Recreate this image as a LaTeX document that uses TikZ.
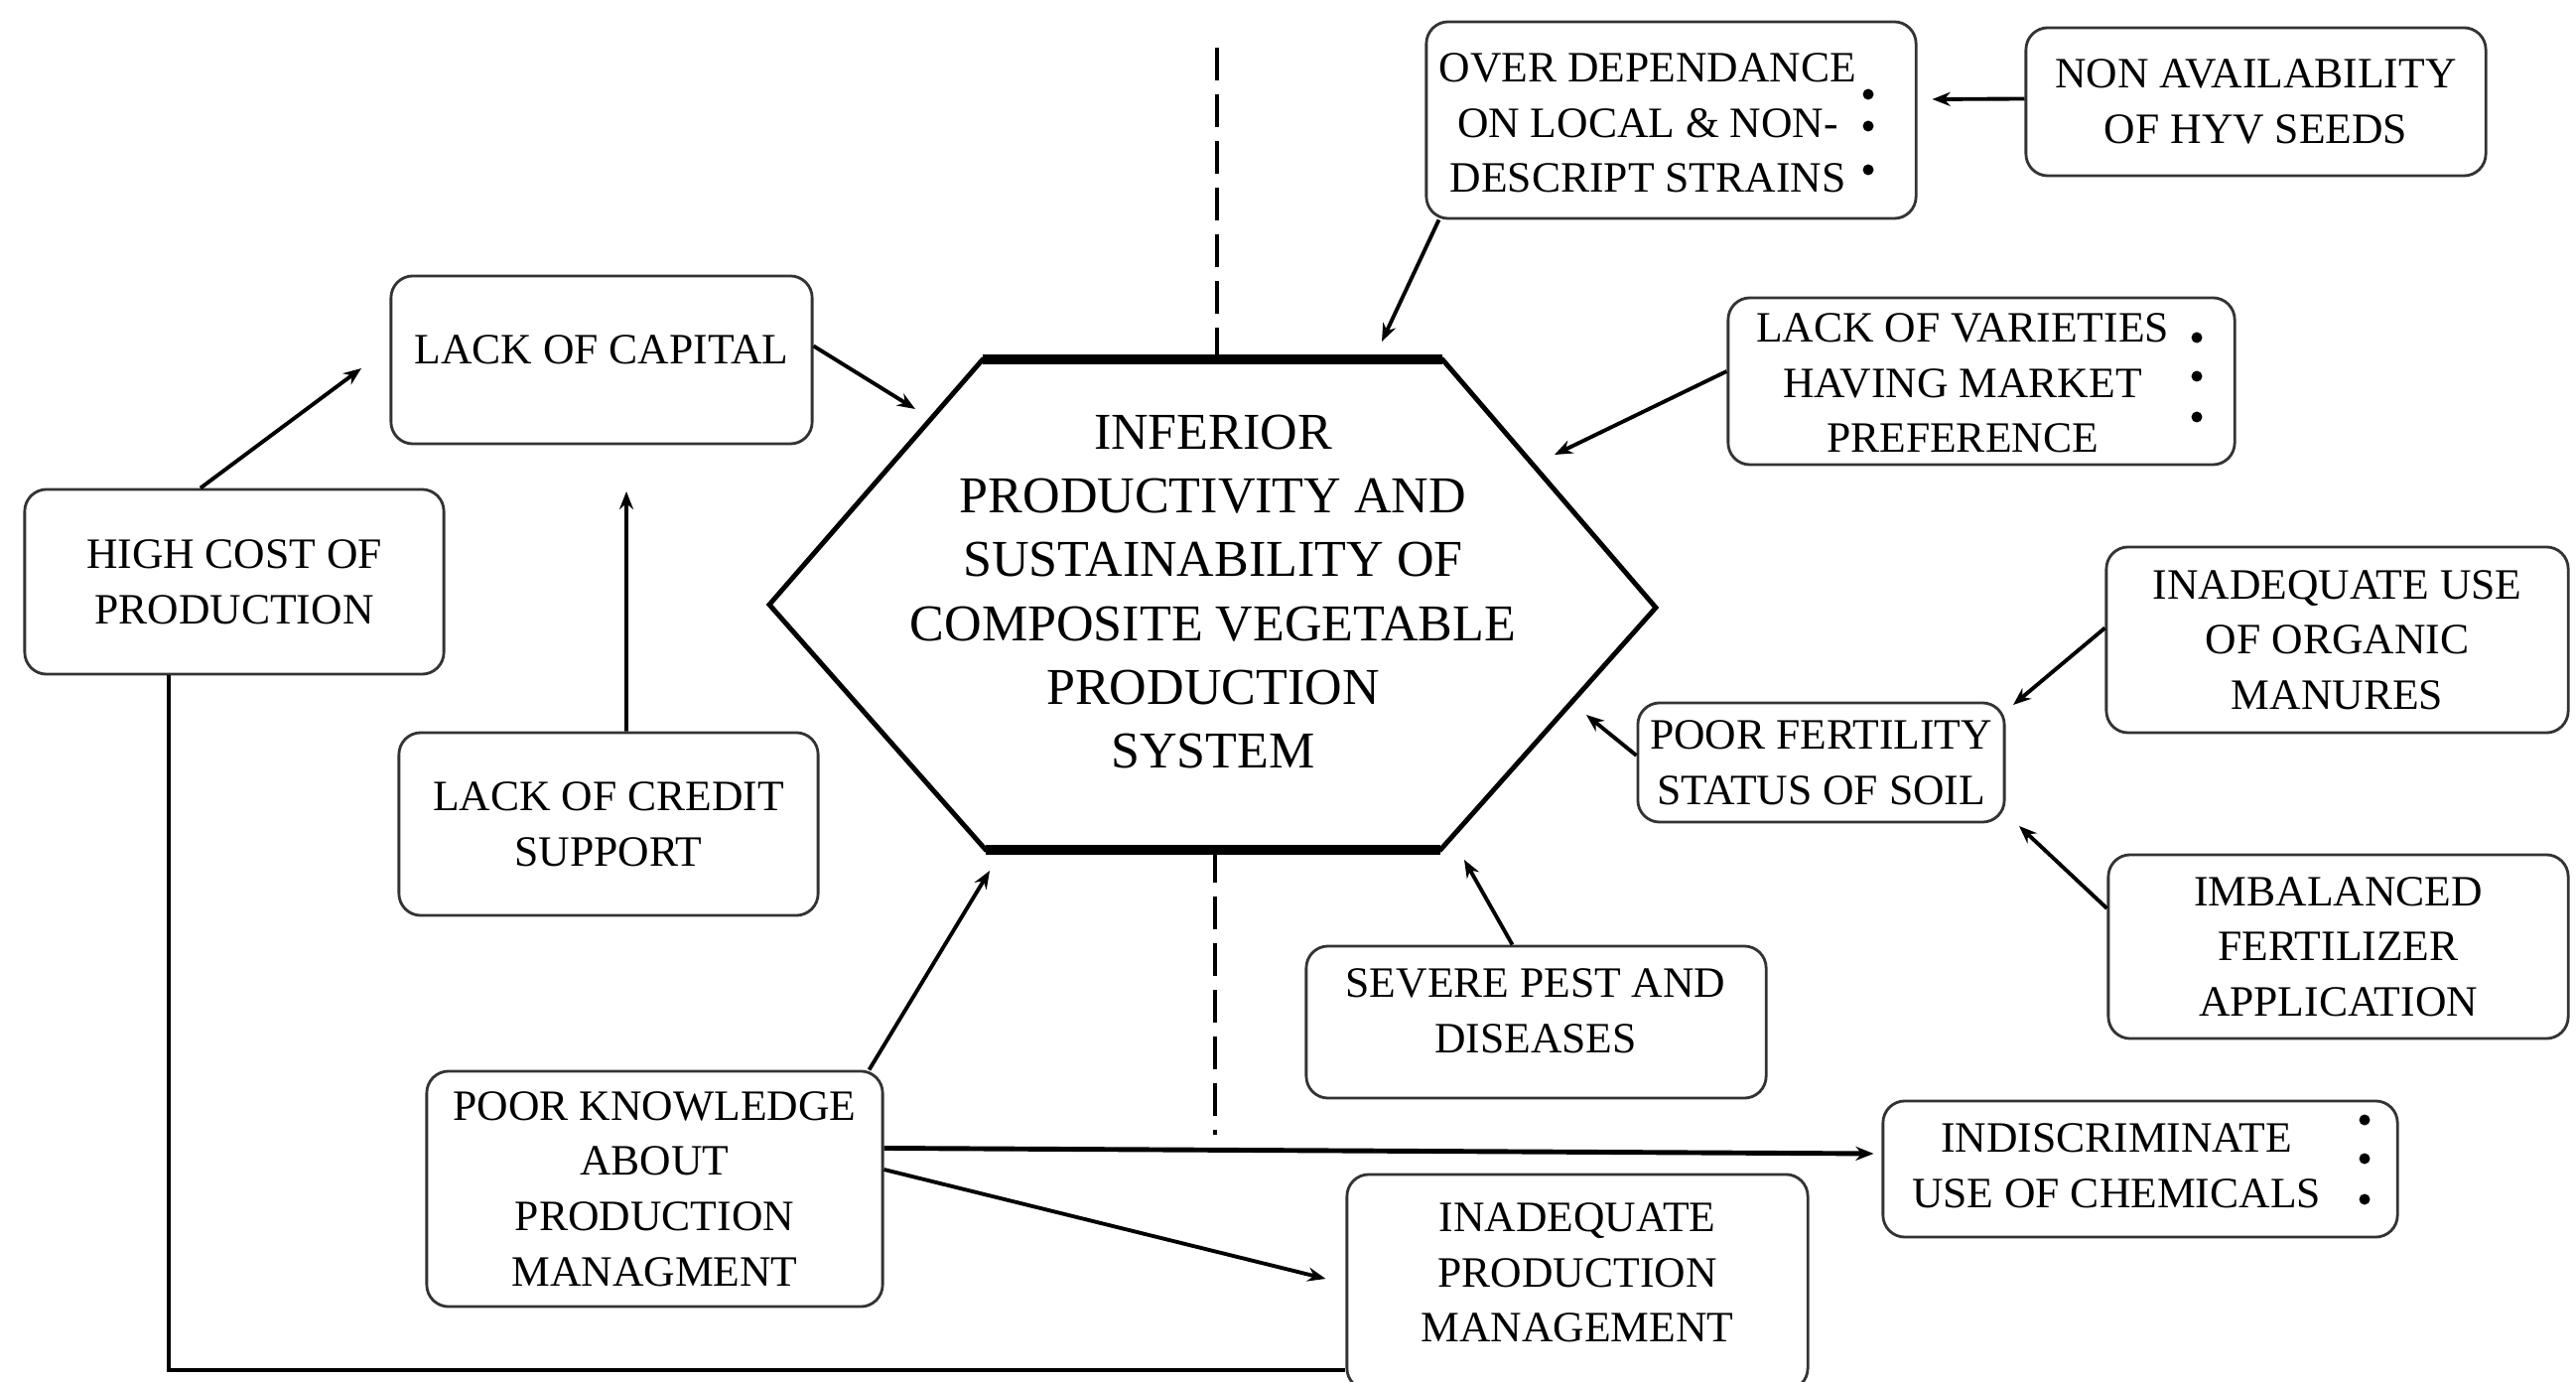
\documentclass[tikz,border=0pt]{standalone}
\usepackage{fontspec}
\setmainfont{Liberation Serif}
\usetikzlibrary{arrows.meta}
\begin{document}
\begin{tikzpicture}[x=0.01cm,y=-0.01cm,
  box/.style={draw=black!80, line width=0.8pt, rounded corners=0.22cm, inner sep=0pt},
  txt/.style={align=center, inner sep=0pt, font=\fontsize{12.4}{15.8}\selectfont},
  boxt/.style={box, txt},
  conn/.style={line width=1.1pt, draw=black},
  arr/.style={conn, -{Stealth[length=0.18cm,width=0.14cm]}},
  thickconn/.style={line width=1.4pt, draw=black},
  divider/.style={line width=1.1pt, dash pattern=on 0.33cm off 0.14cm},
  hexside/.style={line width=1.4pt, line join=miter},
  hexcap/.style={line width=2.8pt},
  bul/.style={fill=black}]

\fill[white] (0,0) rectangle (2595,1392);
\useasboundingbox (0,0) rectangle (2595,1392);

% ---------------- hexagon ----------------
\coordinate (hTL) at (990,362);
\coordinate (hTR) at (1453,362);
\coordinate (hR)  at (1668,612);
\coordinate (hBR) at (1451,856);
\coordinate (hBL) at (993,856);
\coordinate (hL)  at (775,609);
\draw[hexside] (hTL) -- (hTR) -- (hR) -- (hBR) -- (hBL) -- (hL) -- cycle;
\draw[hexcap] (hTL) -- (hTR);
\draw[hexcap] (hBL) -- (hBR);
\node[align=center, inner sep=0pt, font=\fontsize{14.8}{18.3}\selectfont] (core) at (1222,596)
  {INFERIOR\\PRODUCTIVITY AND\\SUSTAINABILITY OF\\COMPOSITE VEGETABLE\\PRODUCTION\\SYSTEM};

% ---------------- dashed divider ----------------
\coordinate (dtop) at (1226,48);
\coordinate (dbot) at (1224,1143);
\draw[divider] (dtop) -- (dtop |- hTL);
\draw[divider] (dbot |- hBL) -- (dbot);

% ---------------- boxes ----------------
\node[box, minimum width=4.93cm, minimum height=1.98cm] (overdep) at (1683.5,121) {};
\node[txt] (overdept) at (1660,124) {OVER DEPENDANCE\\ON LOCAL \& NON-\\DESCRIPT STRAINS};

\node[boxt, minimum width=4.63cm, minimum height=1.49cm] (nonavail) at (2272.5,102.5) {NON AVAILABILITY\\OF HYV SEEDS};

\node[box, minimum width=4.24cm, minimum height=1.69cm] (capital) at (606,362.5) {};
\node[txt] (capitalt) at (606,352) {LACK OF CAPITAL};

\node[boxt, minimum width=4.22cm, minimum height=1.86cm] (highcost) at (236,586) {HIGH COST OF\\PRODUCTION};

\node[boxt, minimum width=4.22cm, minimum height=1.84cm] (credit) at (613,830) {LACK OF CREDIT\\SUPPORT};

\node[box, minimum width=5.10cm, minimum height=1.68cm] (varieties) at (1996,384) {};
\node[txt] (varietiest) at (1977,386) {LACK OF VARIETIES\\HAVING MARKET\\PREFERENCE};

\node[boxt, minimum width=3.69cm, minimum height=1.20cm] (fertility) at (1834.5,768) {POOR FERTILITY\\STATUS OF SOIL};

\node[boxt, minimum width=4.65cm, minimum height=1.87cm] (organic) at (2354.5,644.5) {INADEQUATE USE\\OF ORGANIC\\MANURES};

\node[boxt, minimum width=4.63cm, minimum height=1.85cm] (imbalanced) at (2355.5,953.5) {IMBALANCED\\FERTILIZER\\APPLICATION};

\node[box, minimum width=4.63cm, minimum height=1.53cm] (pest) at (1547.5,1029.5) {};
\node[txt] (pestt) at (1547,1018) {SEVERE PEST AND\\DISEASES};

\node[boxt, minimum width=4.59cm, minimum height=2.37cm] (knowledge) at (659.5,1197.5) {POOR KNOWLEDGE\\ABOUT\\PRODUCTION\\MANAGMENT};

\node[box, minimum width=5.18cm, minimum height=1.37cm] (indiscr) at (2156,1177.5) {};
\node[txt] (indiscrt) at (2132,1174) {INDISCRIMINATE\\USE OF CHEMICALS};

\node[box, minimum width=4.64cm, minimum height=2.17cm] (mgmt) at (1589,1291.5) {};
\node[txt] (mgmtt) at (1589,1282) {INADEQUATE\\PRODUCTION\\MANAGEMENT};

% ---------------- bullets ----------------
\fill[bul] (1882,95) circle[radius=0.055cm];
\fill[bul] (1882,127) circle[radius=0.055cm];
\fill[bul] (1882,171) circle[radius=0.055cm];
\fill[bul] (2213,340) circle[radius=0.055cm];
\fill[bul] (2213,379) circle[radius=0.055cm];
\fill[bul] (2213,420) circle[radius=0.055cm];
\fill[bul] (2382,1128) circle[radius=0.055cm];
\fill[bul] (2382,1167) circle[radius=0.055cm];
\fill[bul] (2382,1208) circle[radius=0.055cm];

% ---------------- arrow end points ----------------
\coordinate (aOver) at (1392,344);
\coordinate (aCap)  at (922,412);
\coordinate (aHigh) at (364,371);
\coordinate (aCred) at (631,495);
\coordinate (aVar)  at (1566,458);
\coordinate (aFert) at (1598,720);
\coordinate (aOrg)  at (2028,710);
\coordinate (aImb)  at (2034,832);
\coordinate (aPest) at (1475,866);
\coordinate (aKnow) at (997,877);
\coordinate (bline) at (1350,1380);

% ---------------- connectors ----------------
\draw[arr] ([yshift=0.03cm]nonavail.west) -- ([xshift=0.15cm,yshift=0.21cm]overdep.east);
\draw[arr] ([xshift=0.14cm]overdep.south west) -- (aOver);
\draw[arr] ([yshift=0.14cm]capital.east) -- (aCap);
\draw[arr] ([xshift=-0.34cm]highcost.north) -- (aHigh);
\draw[arr] ([xshift=0.18cm]credit.north) -- (aCred);
\draw[arr] ([yshift=0.1cm]varieties.west) -- (aVar);
\draw[arr] ([yshift=0.07cm]fertility.west) -- (aFert);
\draw[arr] ([yshift=0.12cm]organic.west) -- (aOrg);
\draw[arr] ([yshift=0.385cm]imbalanced.west) -- (aImb);
\draw[arr] ([xshift=-0.24cm]pest.north) -- (aPest);
\draw[arr] ([xshift=-0.15cm]knowledge.north east) -- (aKnow);
\draw[thickconn, -{Stealth[length=0.18cm,width=0.14cm]}] ([yshift=0.41cm]knowledge.east) -- ([xshift=-0.08cm,yshift=0.155cm]indiscr.west);
\draw[arr] ([yshift=0.195cm]knowledge.east) -- ([xshift=-0.2cm,yshift=0.035cm]mgmt.west);
\draw[thickconn] ([xshift=-0.66cm]highcost.south) |- (mgmt.west |- bline);

\end{tikzpicture}
\end{document}
